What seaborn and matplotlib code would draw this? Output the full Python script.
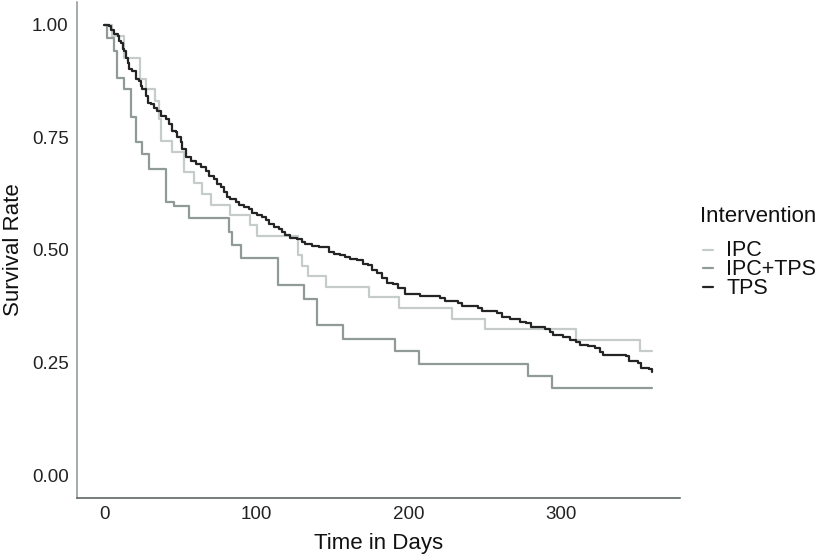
import pandas as pd
import matplotlib
matplotlib.use("Agg")
import matplotlib.pyplot as plt
import seaborn as sns

# step points (time in days, survival rate)
ipc_time = [0, 5, 13, 23.5, 27.2, 33, 36, 37, 44.6, 52.5, 58.8, 64.3, 70, 82.4, 95.3,
            99.9, 126.9, 130, 134, 145.7, 174, 193.7, 228, 249.8, 309.9, 351.8, 359.4]
ipc_surv = [1.0, 0.974, 0.926, 0.879, 0.857, 0.831, 0.790, 0.742, 0.717, 0.673, 0.648,
            0.625, 0.600, 0.577, 0.555, 0.531, 0.489, 0.465, 0.442, 0.419, 0.395, 0.372,
            0.347, 0.324, 0.301, 0.275, 0.275]

combo_time = [0, 2, 6, 8, 13, 17.4, 20.6, 25, 29.4, 40.3, 45.7, 55.5, 81.8, 84, 90,
              114, 131, 139.6, 157, 191, 206.8, 278.2, 294, 359.4]
combo_surv = [1.0, 0.971, 0.941, 0.882, 0.857, 0.794, 0.739, 0.713, 0.680, 0.606, 0.597,
              0.570, 0.540, 0.511, 0.483, 0.422, 0.391, 0.333, 0.303, 0.277, 0.248, 0.221,
              0.193, 0.193]

tps_time = [0, 1, 3.2, 4.3, 6.0, 6.4, 8.6, 9.7, 10.8, 11.9, 13.0, 14.1, 15.2, 16.3, 17.8,
            20.6, 22.8, 23.9, 25.0, 27.2, 28.3, 30.5, 32.6, 34.8, 37.0, 40.3, 42.4, 44.7,
            46.8, 47.9, 50.1, 51.2, 53.4, 56.6, 59.9, 63.2, 66.5, 68.6, 71.9, 74.1, 76.3,
            78.5, 80.7, 82.8, 86.1, 88.3, 91.6, 94.8, 97.1, 100.3, 103.6, 105.8, 107.9,
            111.2, 114.5, 116.7, 118.9, 122.1, 126.5, 129.8, 132.0, 136.3, 140.7, 145.1,
            147.2, 150.5, 154.9, 158.2, 161.4, 165.8, 170.1, 173.4, 175.6, 178.9, 182.2,
            185.5, 189.8, 193.1, 197.4, 205.1, 207.3, 213.8, 220.4, 223.6, 232.4, 234.6,
            245.5, 247.7, 257.5, 260.8, 266.2, 272.8, 277.1, 280.4, 289.1, 292.4, 294.6,
            301.1, 305.5, 309.9, 312.1, 317.5, 321.9, 325.2, 327.3, 342.6, 344.8, 350.3,
            352.5, 357.9, 359.4]
tps_surv = [1.0, 1.0, 0.996, 0.989, 0.983, 0.978, 0.974, 0.963, 0.960, 0.945, 0.941,
            0.926, 0.915, 0.901, 0.897, 0.879, 0.875, 0.864, 0.857, 0.842, 0.827, 0.823,
            0.816, 0.809, 0.798, 0.790, 0.779, 0.765, 0.761, 0.750, 0.739, 0.724, 0.706,
            0.698, 0.691, 0.684, 0.676, 0.665, 0.658, 0.647, 0.639, 0.628, 0.617, 0.614,
            0.606, 0.599, 0.595, 0.592, 0.581, 0.577, 0.573, 0.566, 0.558, 0.551, 0.547,
            0.540, 0.533, 0.527, 0.525, 0.518, 0.513, 0.509, 0.507, 0.506, 0.496, 0.492,
            0.489, 0.485, 0.481, 0.477, 0.470, 0.466, 0.455, 0.448, 0.439, 0.426, 0.425,
            0.415, 0.402, 0.402, 0.398, 0.397, 0.393, 0.386, 0.382, 0.375, 0.371, 0.364,
            0.360, 0.351, 0.347, 0.341, 0.338, 0.330, 0.325, 0.319, 0.311, 0.306, 0.301,
            0.296, 0.290, 0.288, 0.283, 0.274, 0.268, 0.266, 0.253, 0.249, 0.238, 0.236,
            0.230]

groups = ["IPC", "IPC+TPS", "TPS"]
colors = {"IPC": "#c6cccb", "IPC+TPS": "#909a98", "TPS": "#242424"}

df = pd.concat([
    pd.DataFrame({"time": ipc_time, "surv": ipc_surv, "Intervention": "IPC"}),
    pd.DataFrame({"time": combo_time, "surv": combo_surv, "Intervention": "IPC+TPS"}),
    pd.DataFrame({"time": tps_time, "surv": tps_surv, "Intervention": "TPS"}),
], ignore_index=True)

sns.set_style("white")
plt.rcParams["font.family"] = ["Liberation Sans", "DejaVu Sans"]

W, H = 822, 560
fig, ax = plt.subplots(figsize=(W / 100, H / 100), dpi=100)
fig.subplots_adjust(left=77 / W, right=680 / W, bottom=1 - 498 / H, top=1 - 2 / H)

sns.lineplot(data=df, x="time", y="surv", hue="Intervention", hue_order=groups,
             palette=colors, estimator=None, errorbar=None, drawstyle="steps-post",
             linewidth=1.6, ax=ax, legend=False)

ax.set_xlim(-18, 378)
ax.set_ylim(-0.05, 1.05)
ax.set_xticks([0, 100, 200, 300])
ax.set_yticks([0, 0.25, 0.5, 0.75, 1.0])
ax.set_yticklabels(["0.00", "0.25", "0.50", "0.75", "1.00"])
ax.set_xlabel("Time in Days", fontsize=16, color="#111111", labelpad=7)
ax.set_ylabel("Survival Rate", fontsize=16, color="#111111", labelpad=6)

sns.despine(ax=ax)
ax.spines["left"].set_color("#8c9492")
ax.spines["bottom"].set_color("#505a58")
ax.spines["left"].set_linewidth(1.1)
ax.spines["bottom"].set_linewidth(1.1)
ax.tick_params(axis="both", labelsize=13.5, labelcolor="#222222", length=3.5,
               width=1.0, color="#6b7573", direction="out", pad=2.5)

# legend drawn by hand so the rows sit as tightly as in the reference
fig.text(700 / W, 1 - 222.5 / H, "Intervention", fontsize=16, color="#111111",
         ha="left", va="baseline")
key_y = [250, 268, 286.5]
base_y = [256.5, 275.3, 294.2]
for g, yc, yb in zip(groups, key_y, base_y):
    fig.add_artist(plt.Line2D([703 / W, 713 / W], [1 - yc / H, 1 - yc / H],
                              color=colors[g], linewidth=1.6))
    fig.text(726 / W, 1 - yb / H, g, fontsize=15.5, color="#111111",
             ha="left", va="baseline")

fig.savefig("out.png", dpi=100)
